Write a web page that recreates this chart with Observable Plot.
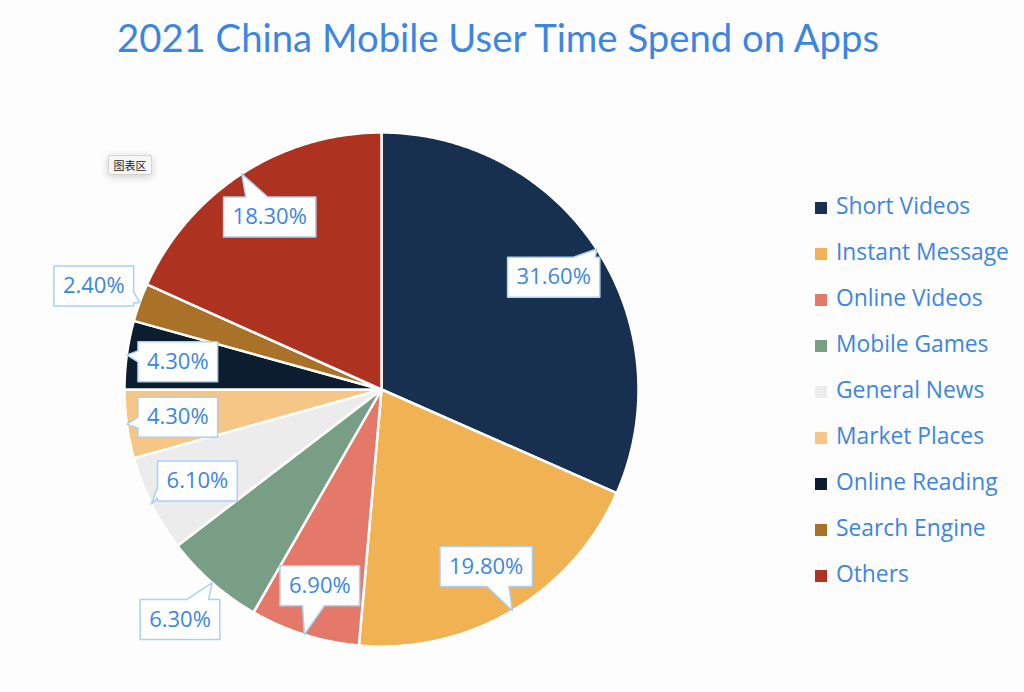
<!DOCTYPE html>
<html>
<head>
<meta charset="utf-8">
<script src="https://cdn.jsdelivr.net/npm/d3@7"></script>
<script src="https://cdn.jsdelivr.net/npm/@observablehq/plot@0.6"></script>
<style>
  html, body { margin: 0; padding: 0; background: #fdfdfd; }
  body { position: relative; width: 1024px; height: 692px; overflow: hidden; font-family: "Open Sans", Lato, sans-serif; }
  #title { position: relative; height: 80px; }
  #title span { position: absolute; left: 0; width: 996px; top: 18px; text-align: center; font-family: Lato, sans-serif; font-size: 38.3px; line-height: 38px; color: #3d86df; white-space: nowrap; }
  #chart { position: absolute; left: 0; top: 80px; }
  #legend { position: absolute; left: 815px; top: 183px; }
  .row { height: 46px; line-height: 46px; font-size: 22.8px; color: #3d86df; white-space: nowrap; }
  .sw { display: inline-block; width: 12px; height: 12px; margin-right: 9px; vertical-align: 0px; }
  #tip { position: absolute; left: 108px; top: 155px; width: 42px; height: 18px; background: #f6f6f6; border: 1px solid #d4d4d4; border-radius: 2px; box-shadow: 0 2px 8px rgba(0,0,0,0.18); font: 11px "Noto Sans CJK SC", sans-serif; line-height: 18px; text-align: center; color: #222; }
</style>
</head>
<body>
<div id="title"><span>2021 China Mobile User Time Spend on Apps</span></div>
<div id="chart"></div>
<div id="legend"></div>
<div id="tip">图表区</div>
<script>
const categories = ["Short Videos", "Instant Message", "Online Videos", "Mobile Games", "General News", "Market Places", "Online Reading", "Search Engine", "Others"];
const values = [31.6, 19.8, 6.9, 6.3, 6.1, 4.3, 4.3, 2.4, 18.3];
const colors = ["#17304f", "#f0b252", "#e4796a", "#789e86", "#ececec", "#f5c685", "#0c1d2f", "#aa7128", "#ad3220"];
const labelTexts = values.map(v => v.toFixed(2) + "%");
const outsideLabels = ["Mobile Games", "Search Engine"];

// layout
const R = 257;
const W = 1024, H = 612;
const CX = 381, CY = 309;
const blue = "#3d86df";
const fontSize = 22;
const fontFamily = "Open Sans";

const arcs = d3.pie().sort(null).value(d => d)(values);

// slice outlines
const slicePts = [];
arcs.forEach((a, i) => {
  const name = categories[i];
  slicePts.push({name, x: 0, y: 0});
  const n = Math.max(2, Math.ceil((a.endAngle - a.startAngle) / (Math.PI / 360)));
  for (let k = 0; k <= n; k++) {
    const t = a.startAngle + (a.endAngle - a.startAngle) * k / n;
    slicePts.push({name, x: R * Math.sin(t), y: R * Math.cos(t)});
  }
});

// callouts
const ctx = document.createElement("canvas").getContext("2d");
ctx.font = `${fontSize}px "${fontFamily}"`;
const labelData = [];
const calloutPts = [];
arcs.forEach((a, i) => {
  const name = categories[i];
  const mid = (a.startAngle + a.endAngle) / 2;
  const outside = outsideLabels.includes(name);
  const f = outside ? 1.19 : 0.8;
  const bx = R * f * Math.sin(mid), by = R * f * Math.cos(mid);
  const tx = R * Math.sin(mid), ty = R * Math.cos(mid);
  const hw = ctx.measureText(labelTexts[i]).width / 2 + 9, hh = 20, bw = 22;
  labelData.push({name, x: bx, y: by, text: labelTexts[i]});
  const dx = tx - bx, dy = ty - by;
  const L = bx - hw, Rr = bx + hw, T = by + hh, B = by - hh;
  const clamp = (v, lo, hi) => Math.max(lo, Math.min(hi, v));
  let pts;
  if (Math.abs(dy) / hh >= Math.abs(dx) / hw) {
    const ix = clamp(bx + dx * hh / Math.abs(dy), L + 3 + bw / 2, Rr - 3 - bw / 2);
    if (dy > 0) {
      pts = [[L, T], [ix - bw / 2, T], [tx, ty], [ix + bw / 2, T], [Rr, T], [Rr, B], [L, B]];
    } else {
      pts = [[L, T], [Rr, T], [Rr, B], [ix + bw / 2, B], [tx, ty], [ix - bw / 2, B], [L, B]];
    }
  } else {
    const iy = clamp(by + dy * hw / Math.abs(dx), B + 3 + bw / 4, T - 3 - bw / 4);
    const bh = bw / 2;
    if (dx > 0) {
      pts = [[L, T], [Rr, T], [Rr, iy + bh / 2], [tx, ty], [Rr, iy - bh / 2], [Rr, B], [L, B]];
    } else {
      pts = [[L, T], [Rr, T], [Rr, B], [L, B], [L, iy - bh / 2], [tx, ty], [L, iy + bh / 2]];
    }
  }
  pts.forEach(p => calloutPts.push({name, x: p[0], y: p[1]}));
});

const chart = Plot.plot({
  width: W,
  height: H,
  margin: 0,
  x: {domain: [-CX, W - CX], axis: null},
  y: {domain: [-(H - CY), CY], axis: null},
  color: {domain: categories, range: colors},
  style: {background: "transparent", overflow: "visible"},
  marks: [
    Plot.line(slicePts, {x: "x", y: "y", z: "name", fill: "name", stroke: "#ffffff", strokeWidth: 2.5, strokeLinejoin: "round", curve: "linear-closed"}),
    Plot.line(calloutPts, {x: "x", y: "y", z: "name", fill: "#ffffff", stroke: "#a9d0f5", strokeWidth: 1.5, curve: "linear-closed"}),
    Plot.text(labelData, {x: "x", y: "y", text: "text", fill: blue, fontSize: fontSize, fontFamily: fontFamily, textAnchor: "middle"})
  ]
});
document.getElementById("chart").appendChild(chart);

const legend = document.getElementById("legend");
categories.forEach((c, i) => {
  const row = document.createElement("div");
  row.className = "row";
  const sw = document.createElement("span");
  sw.className = "sw";
  sw.style.background = colors[i];
  row.appendChild(sw);
  row.appendChild(document.createTextNode(c));
  legend.appendChild(row);
});
</script>
</body>
</html>
